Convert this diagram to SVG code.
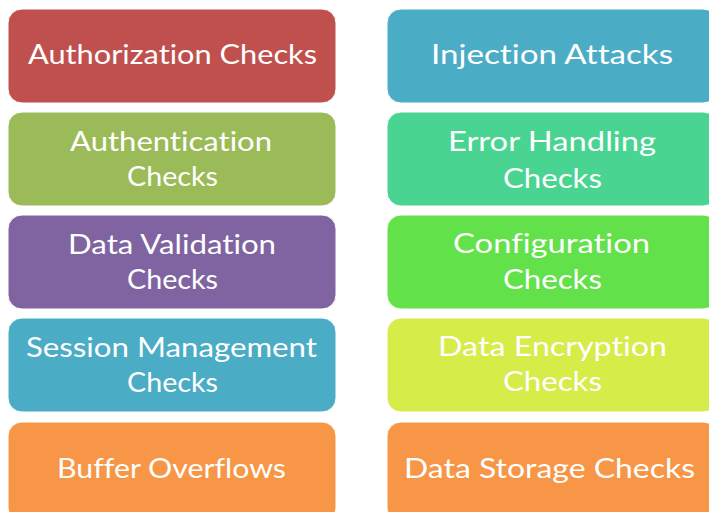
<svg xmlns="http://www.w3.org/2000/svg" width="709" height="512" viewBox="0 0 709 512">
<style>
.b{stroke:#ffffff;stroke-width:1}
.t{font-family:Lato,"Open Sans","Liberation Sans",Arial,sans-serif;font-size:27px;fill:#ffffff;text-anchor:middle;font-variant-ligatures:none;font-feature-settings:"liga" 0,"dlig" 0,"clig" 0}
</style>
<rect width="709" height="512" fill="#ffffff"/>
<g id="authorization"><rect class="b" x="8" y="9" width="328" height="94" rx="14" fill="#C0504D"/><text class="t" x="172.5" y="64" textLength="289" lengthAdjust="spacingAndGlyphs">Authorization Checks</text></g>
<g id="authentication"><rect class="b" x="8" y="112" width="328" height="94" rx="14" fill="#9BBB59"/><text class="t" x="171" y="151" textLength="202" lengthAdjust="spacingAndGlyphs">Authentication</text><text class="t" x="172.5" y="186" textLength="91" lengthAdjust="spacingAndGlyphs">Checks</text></g>
<g id="validation"><rect class="b" x="8" y="215" width="328" height="94" rx="14" fill="#8064A2"/><text class="t" x="172" y="254" textLength="208" lengthAdjust="spacingAndGlyphs">Data Validation</text><text class="t" x="172.5" y="289" textLength="91" lengthAdjust="spacingAndGlyphs">Checks</text></g>
<g id="session"><rect class="b" x="8" y="318" width="328" height="94" rx="14" fill="#4BACC6"/><text class="t" x="171.5" y="357" textLength="291" lengthAdjust="spacingAndGlyphs">Session Management</text><text class="t" x="172.5" y="392" textLength="91" lengthAdjust="spacingAndGlyphs">Checks</text></g>
<g id="buffer"><rect class="b" x="8" y="422" width="328" height="100" rx="14" fill="#F79646"/><text class="t" x="171.5" y="478" textLength="229" lengthAdjust="spacingAndGlyphs">Buffer Overflows</text></g>
<g id="injection"><rect class="b" x="387" y="9" width="330" height="94" rx="14" fill="#4BACC6"/><text class="t" x="552" y="64" textLength="242" lengthAdjust="spacingAndGlyphs">Injection Attacks</text></g>
<g id="error"><rect class="b" x="387" y="112" width="330" height="94" rx="14" fill="#4AD491"/><text class="t" x="552" y="151" textLength="208" lengthAdjust="spacingAndGlyphs">Error Handling</text><text class="t" x="552.5" y="188" textLength="99" lengthAdjust="spacingAndGlyphs">Checks</text></g>
<g id="configuration"><rect class="b" x="387" y="215" width="330" height="94" rx="14" fill="#62E14A"/><text class="t" x="551.5" y="253" textLength="197" lengthAdjust="spacingAndGlyphs">Configuration</text><text class="t" x="552.5" y="289" textLength="99" lengthAdjust="spacingAndGlyphs">Checks</text></g>
<g id="encryption"><rect class="b" x="387" y="318" width="330" height="94" rx="14" fill="#D5EC49"/><text class="t" x="552.5" y="356" textLength="229" lengthAdjust="spacingAndGlyphs">Data Encryption</text><text class="t" x="552.5" y="391" textLength="99" lengthAdjust="spacingAndGlyphs">Checks</text></g>
<g id="storage"><rect class="b" x="387" y="422" width="330" height="100" rx="14" fill="#F79646"/><text class="t" x="549.5" y="478" textLength="291" lengthAdjust="spacingAndGlyphs">Data Storage Checks</text></g>
<g id="connectors"></g>
</svg>
